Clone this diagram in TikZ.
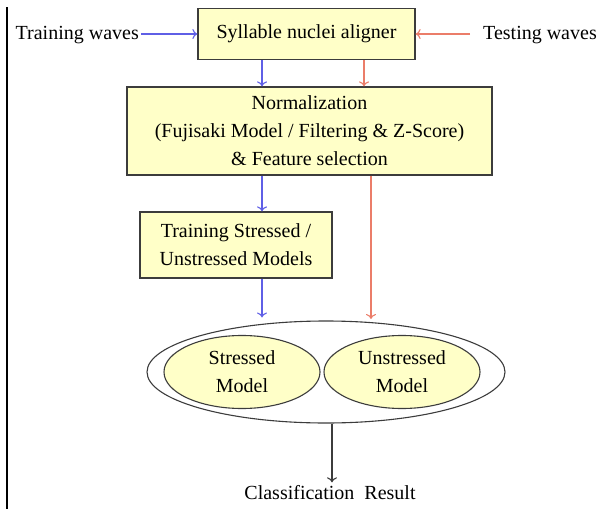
\documentclass[tikz,border=0pt]{standalone}
\usepackage{fontspec}
\setmainfont{Liberation Serif}
\usetikzlibrary{arrows.meta,shapes.geometric}

\definecolor{boxfill}{RGB}{255,255,200}
\definecolor{trainblue}{RGB}{95,95,230}
\definecolor{testred}{RGB}{235,125,105}
\definecolor{edgegray}{RGB}{60,60,60}

\tikzset{
  stepbox/.style={draw=edgegray, line width=1.3, fill=boxfill, align=center, inner sep=0pt},
  modelellipse/.style={ellipse, draw=edgegray, line width=1.1, fill=boxfill, align=center,
    inner sep=0pt, minimum width=156, minimum height=73},
  wavetext/.style={inner sep=2pt},
  trainline/.style={trainblue, line width=1.1, -{To[length=5,width=10]}},
  testline/.style={testred, line width=1.1, -{To[length=5,width=10]}},
  resultline/.style={edgegray, line width=1.1, -{To[length=5,width=10]}},
}

\begin{document}
\begin{tikzpicture}[x=1pt, y=-1pt, font=\fontsize{20}{28}\selectfont]
\useasboundingbox (0,0) rectangle (598,509);

\draw[line width=1.4]
  (7,7) to (7,509);

\node[stepbox, minimum width=217, minimum height=51] (aligner) at (306.5,34)
  {Syllable nuclei aligner};
\node[wavetext, anchor=east] (trainwaves) at (141,35) {Training waves};
\node[wavetext, anchor=west] (testwaves) at (481,35) {Testing waves};
\node[stepbox, minimum width=365, minimum height=88] (norm) at (309.5,131)
  {Normalization\\(Fujisaki Model / Filtering \& Z-Score)\\\& Feature selection};
\node[stepbox, minimum width=192, minimum height=66] (trainmodels) at (236,245)
  {Training Stressed /\\Unstressed Models};
\node[ellipse, draw=edgegray, line width=1.1, fill=white, inner sep=0pt,
  minimum width=358, minimum height=102] (models) at (326,372) {};
\node[modelellipse] (stressed) at (242,372) {Stressed\\Model};
\node[modelellipse] (unstressed) at (402,372) {Unstressed\\Model};
\node (result) at (330,493) {Classification\ \ Result};

\coordinate (bluex) at (262,0);
\coordinate (redtop) at (364,0);
\coordinate (redlow) at (371,0);
\coordinate (outx) at (332,0);

% waves in
\draw[trainline]
  (trainwaves.east |- aligner.west) to (aligner.west);
\draw[testline, shorten <=11]
  (testwaves.west |- aligner.east) to (aligner.east);

% training path
\draw[trainline]
  (aligner.south -| bluex) to (norm.north -| bluex);
\draw[trainline]
  (norm.south -| bluex) to (trainmodels.north -| bluex);
\draw[trainline, shorten >=3]
  (trainmodels.south -| bluex) to (models.north -| bluex);

% testing path
\draw[testline]
  (aligner.south -| redtop) to (norm.north -| redtop);
\draw[testline, shorten >=1.5]
  (norm.south -| redlow) to (models.north -| redlow);

\draw[resultline]
  (models.south -| outx) to (result.north -| outx);
\end{tikzpicture}
\end{document}
